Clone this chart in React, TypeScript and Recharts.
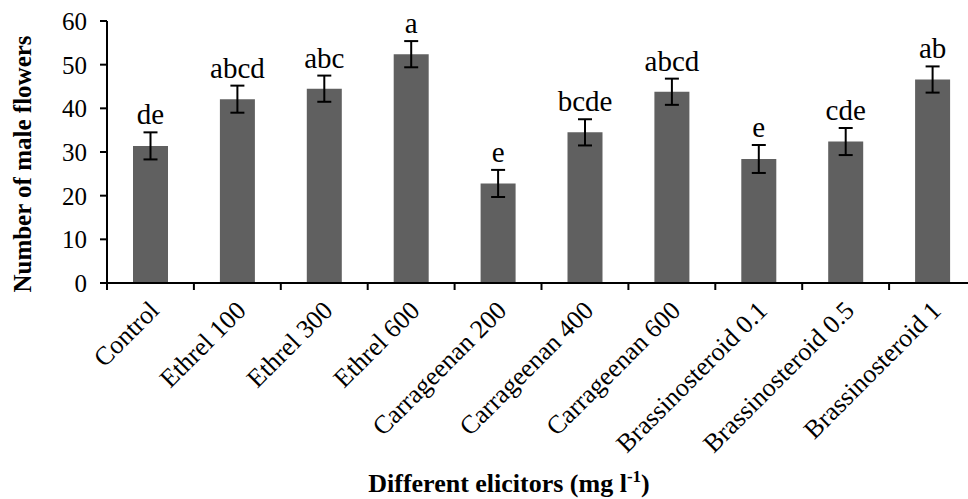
import React from "react";
import {
  ComposedChart,
  Bar,
  XAxis,
  YAxis,
  ErrorBar,
  LabelList,
  Label
} from "recharts";

// Male flower counts per elicitor treatment (mean ± SE, with DMRT letters)
const categories = [
  "Control",
  "Ethrel 100",
  "Ethrel 300",
  "Ethrel 600",
  "Carrageenan 200",
  "Carrageenan 400",
  "Carrageenan 600",
  "Brassinosteroid 0.1",
  "Brassinosteroid 0.5",
  "Brassinosteroid 1"
];
const means = [31.4, 42.1, 44.5, 52.4, 22.8, 34.5, 43.8, 28.4, 32.4, 46.6];
const errors = [3.1, 3.1, 3.0, 3.0, 3.1, 3.0, 3.0, 3.2, 3.1, 3.0];
const letters = ["de", "abcd", "abc", "a", "e", "bcde", "abcd", "e", "cde", "ab"];
const yTicks = [0, 10, 20, 30, 40, 50, 60];

const data = categories.map((name, i) => ({
  name,
  mean: means[i],
  se: errors[i],
  letter: letters[i]
}));

const FONT = "Liberation Serif, Times New Roman, serif";
const CHART_W = 1000;
const CHART_H = 499;
const MARGIN = { top: 21, right: 24, left: 0, bottom: 0 };
const Y_AXIS_W = 107;
const BAND = (CHART_W - MARGIN.left - MARGIN.right - Y_AXIS_W) / categories.length;

// rotated category label plus a tick mark on the left band edge
function CategoryTick(props: any) {
  const { x, y, payload } = props;
  const edge = x - BAND / 2;
  const ax = x + 10;
  const ay = y + 29;
  return (
    <g>
      <line x1={edge} y1={y} x2={edge} y2={y + 7} stroke="#000" strokeWidth={2} />
      <text
        x={ax}
        y={ay}
        transform={`rotate(-45, ${ax}, ${ay})`}
        textAnchor="end"
        fontFamily={FONT}
        fontSize={26}
        fill="#000"
      >
        {payload.value}
      </text>
    </g>
  );
}

// significance letter sitting above the error bar cap
function LetterLabel(props: any) {
  const { x, y, width, height, index } = props;
  const row = data[index];
  const pxPerUnit = height / row.mean;
  const capY = y - row.se * pxPerUnit;
  return (
    <text
      x={x + width / 2}
      y={capY - 8}
      textAnchor="middle"
      fontFamily={FONT}
      fontSize={29}
      fill="#000"
    >
      {row.letter}
    </text>
  );
}

export default function App() {
  return (
    <div
      style={{
        position: "absolute",
        left: 0,
        top: 0,
        width: 968,
        height: 499,
        overflow: "hidden",
        background: "#fff"
      }}
    >
      <ComposedChart width={CHART_W} height={CHART_H} data={data} margin={MARGIN}>
        <XAxis
          dataKey="name"
          height={CHART_H - 283}
          interval={0}
          tickSize={0}
          tickMargin={0}
          tickLine={false}
          axisLine={{ stroke: "#000", strokeWidth: 2 }}
          tick={<CategoryTick />}
        >
          <Label
            content={() => (
              <text
                x={509}
                y={492}
                textAnchor="middle"
                fontFamily={FONT}
                fontSize={26}
                fontWeight="bold"
                fill="#000"
              >
                Different elicitors (mg l
                <tspan dy={-10} fontSize={17}>-1</tspan>
                <tspan dy={10}>)</tspan>
              </text>
            )}
          />
        </XAxis>
        <YAxis
          width={Y_AXIS_W}
          domain={[0, 60]}
          ticks={yTicks}
          interval={0}
          tickSize={7}
          tickMargin={13}
          axisLine={{ stroke: "#000", strokeWidth: 2 }}
          tickLine={{ stroke: "#000", strokeWidth: 2 }}
          tick={{ fontFamily: FONT, fontSize: 25, fill: "#000" }}
        >
          <Label
            content={() => (
              <text
                x={31}
                y={164}
                transform="rotate(-90, 31, 164)"
                textAnchor="middle"
                fontFamily={FONT}
                fontSize={25}
                fontWeight="bold"
                fill="#000"
              >
                Number of male flowers
              </text>
            )}
          />
        </YAxis>
        <Bar dataKey="mean" fill="#606060" barSize={35} isAnimationActive={false}>
          <ErrorBar
            dataKey="se"
            width={7}
            stroke="#000"
            strokeWidth={2}
            direction="y"
          />
          <LabelList dataKey="letter" content={<LetterLabel />} />
        </Bar>
      </ComposedChart>
    </div>
  );
}
